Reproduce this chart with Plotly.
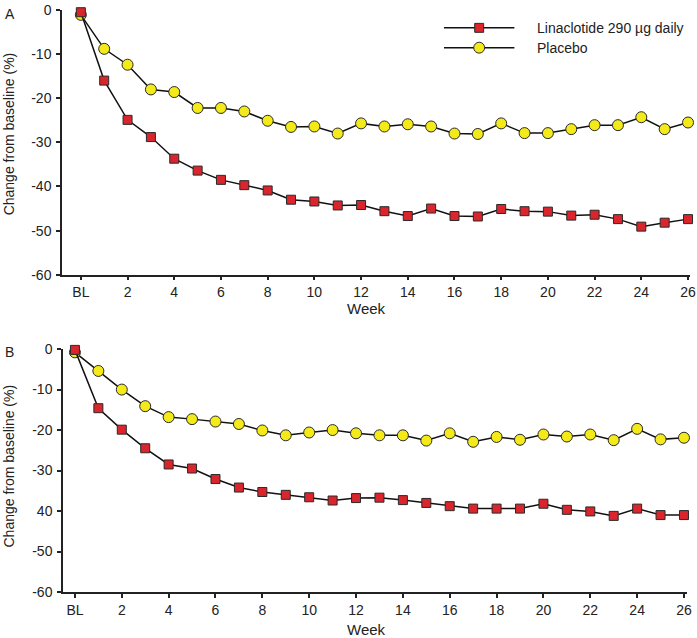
import plotly.graph_objects as go

weeks = list(range(0, 27))
x_tick_vals = [0, 2, 4, 6, 8, 10, 12, 14, 16, 18, 20, 22, 24, 26]
x_tick_text = ["BL", "2", "4", "6", "8", "10", "12", "14", "16", "18", "20", "22", "24", "26"]
y_tick_vals = [0, -10, -20, -30, -40, -50, -60]
y_tick_text_a = ["0", "-10", "-20", "-30", "-40", "-50", "-60"]
y_tick_text_b = ["0", "-10", "-20", "-30", "40", "-50", "-60"]

lina_a = [-0.5, -16.0, -24.9, -28.8, -33.7, -36.4, -38.5, -39.7, -40.9, -43.0, -43.4, -44.3, -44.2,
          -45.6, -46.7, -45.0, -46.7, -46.8, -45.1, -45.6, -45.7, -46.6, -46.4, -47.4, -49.1, -48.2, -47.4]
placebo_a = [-1.1, -8.8, -12.4, -18.0, -18.6, -22.2, -22.2, -23.0, -25.1, -26.5, -26.4, -28.0, -25.7,
             -26.4, -25.9, -26.4, -28.0, -28.1, -25.7, -27.9, -27.9, -27.0, -26.1, -26.1, -24.3, -27.0, -25.5]
lina_b = [-0.2, -14.6, -19.9, -24.5, -28.5, -29.5, -32.1, -34.2, -35.3, -36.0, -36.6, -37.4, -36.8,
          -36.7, -37.3, -38.0, -38.8, -39.4, -39.4, -39.4, -38.2, -39.7, -40.1, -41.2, -39.4, -41.0, -41.0]
placebo_b = [-0.8, -5.4, -10.0, -14.1, -16.8, -17.3, -17.9, -18.5, -20.1, -21.3, -20.6, -20.0, -20.8,
             -21.3, -21.3, -22.6, -20.8, -22.9, -21.7, -22.4, -21.1, -21.6, -21.1, -22.5, -19.7, -22.3, -21.9]

series_names = ["Linaclotide 290 \u00b5g daily", "Placebo"]

W, H = 697, 638
ML, MR, MT, MB = 62, 2, 5, 46
PW, PH = W - ML - MR, H - MT - MB


def xp(px):
    return (px - ML) / PW


def yp(py):
    return (H - MB - py) / PH


RED = "#d9252b"
YELLOW = "#f4ea1a"
EDGE = "#2a2a2a"
FONT = "Liberation Sans, Arial, sans-serif"

fig = go.Figure()


def add_pair(lina, plac, xa, ya):
    fig.add_trace(go.Scatter(
        x=weeks, y=plac, mode="lines+markers", name=series_names[1], showlegend=False,
        xaxis=xa, yaxis=ya, cliponaxis=False,
        line=dict(color="#111111", width=1.5),
        marker=dict(symbol="circle", size=11, color=YELLOW, line=dict(color=EDGE, width=1))))
    fig.add_trace(go.Scatter(
        x=weeks, y=lina, mode="lines+markers", name=series_names[0], showlegend=False,
        xaxis=xa, yaxis=ya, cliponaxis=False,
        line=dict(color="#111111", width=1.5),
        marker=dict(symbol="square", size=9, color=RED, line=dict(color=EDGE, width=1))))


add_pair(lina_a, placebo_a, "x", "y")
add_pair(lina_b, placebo_b, "x2", "y2")

axis_common = dict(showgrid=False, zeroline=False, showline=True, linecolor="#222222", linewidth=1.5,
                   ticks="outside", ticklen=4, tickwidth=1.5, tickcolor="#222222",
                   tickfont=dict(family=FONT, size=14, color="#222222"))

top_dom = [yp(272), 1.0]
bot_dom = [0.0, yp(347)]

fig.update_layout(
    width=W, height=H,
    margin=dict(l=ML, r=MR, t=MT, b=MB),
    paper_bgcolor="white", plot_bgcolor="white",
    font=dict(family=FONT, size=14, color="#222222"),
    showlegend=False,
    xaxis=dict(domain=[0.0, 1.0], range=[-0.807, 26.085], tickmode="array",
               tickvals=x_tick_vals, ticktext=x_tick_text, anchor="y", ticklabelstandoff=0, **axis_common),
    yaxis=dict(domain=top_dom, range=[-60, 0], tickmode="array", tickvals=y_tick_vals,
               ticktext=y_tick_text_a, anchor="x", ticklabelstandoff=2, **axis_common),
    xaxis2=dict(domain=[xp(63), xp(692)], range=[-0.51, 26.13], tickmode="array",
                tickvals=x_tick_vals, ticktext=x_tick_text, anchor="y2", ticklabelstandoff=0, **axis_common),
    yaxis2=dict(domain=bot_dom, range=[-60, 0], tickmode="array", tickvals=y_tick_vals,
                ticktext=y_tick_text_b, anchor="x2", ticklabelstandoff=2, **axis_common),
)

annotations = [
    dict(text="A", x=xp(3), y=yp(9), xanchor="left", yanchor="middle", font=dict(size=14)),
    dict(text="B", x=xp(3), y=yp(350), xanchor="left", yanchor="middle", font=dict(size=14)),
    dict(text="Change from baseline (%)", x=xp(9), y=yp(130), textangle=-90,
         xanchor="center", yanchor="middle", font=dict(size=14)),
    dict(text="Change from baseline (%)", x=xp(9), y=yp(465), textangle=-90,
         xanchor="center", yanchor="middle", font=dict(size=14)),
    dict(text="Week", x=xp(369), y=yp(306), xanchor="center", yanchor="middle", font=dict(size=15)),
    dict(text="Week", x=xp(369), y=yp(630), xanchor="center", yanchor="middle", font=dict(size=15)),
    dict(text=series_names[0], x=xp(539), y=yp(23), xanchor="left", yanchor="middle", font=dict(size=14)),
    dict(text=series_names[1], x=xp(539), y=yp(43), xanchor="left", yanchor="middle", font=dict(size=14)),
]
for a in annotations:
    a.update(xref="paper", yref="paper", showarrow=False)
fig.update_layout(annotations=annotations)

shapes = [
    dict(type="line", x0=xp(447), x1=xp(518), y0=yp(23), y1=yp(23), line=dict(color="#111111", width=1.5)),
    dict(type="line", x0=xp(447), x1=xp(518), y0=yp(43), y1=yp(43), line=dict(color="#111111", width=1.5)),
    dict(type="rect", x0=xp(478), x1=xp(487), y0=yp(27.5), y1=yp(18.5), fillcolor=RED,
         line=dict(color=EDGE, width=1)),
    dict(type="circle", x0=xp(477), x1=xp(488), y0=yp(48.5), y1=yp(37.5), fillcolor=YELLOW,
         line=dict(color=EDGE, width=1)),
]
for s in shapes:
    s.update(xref="paper", yref="paper")
fig.update_layout(shapes=shapes)

fig.write_html(
    "out.html",
    config={"displayModeBar": False},
    post_script="document.body.style.margin='0';document.body.style.overflow='hidden';",
)
